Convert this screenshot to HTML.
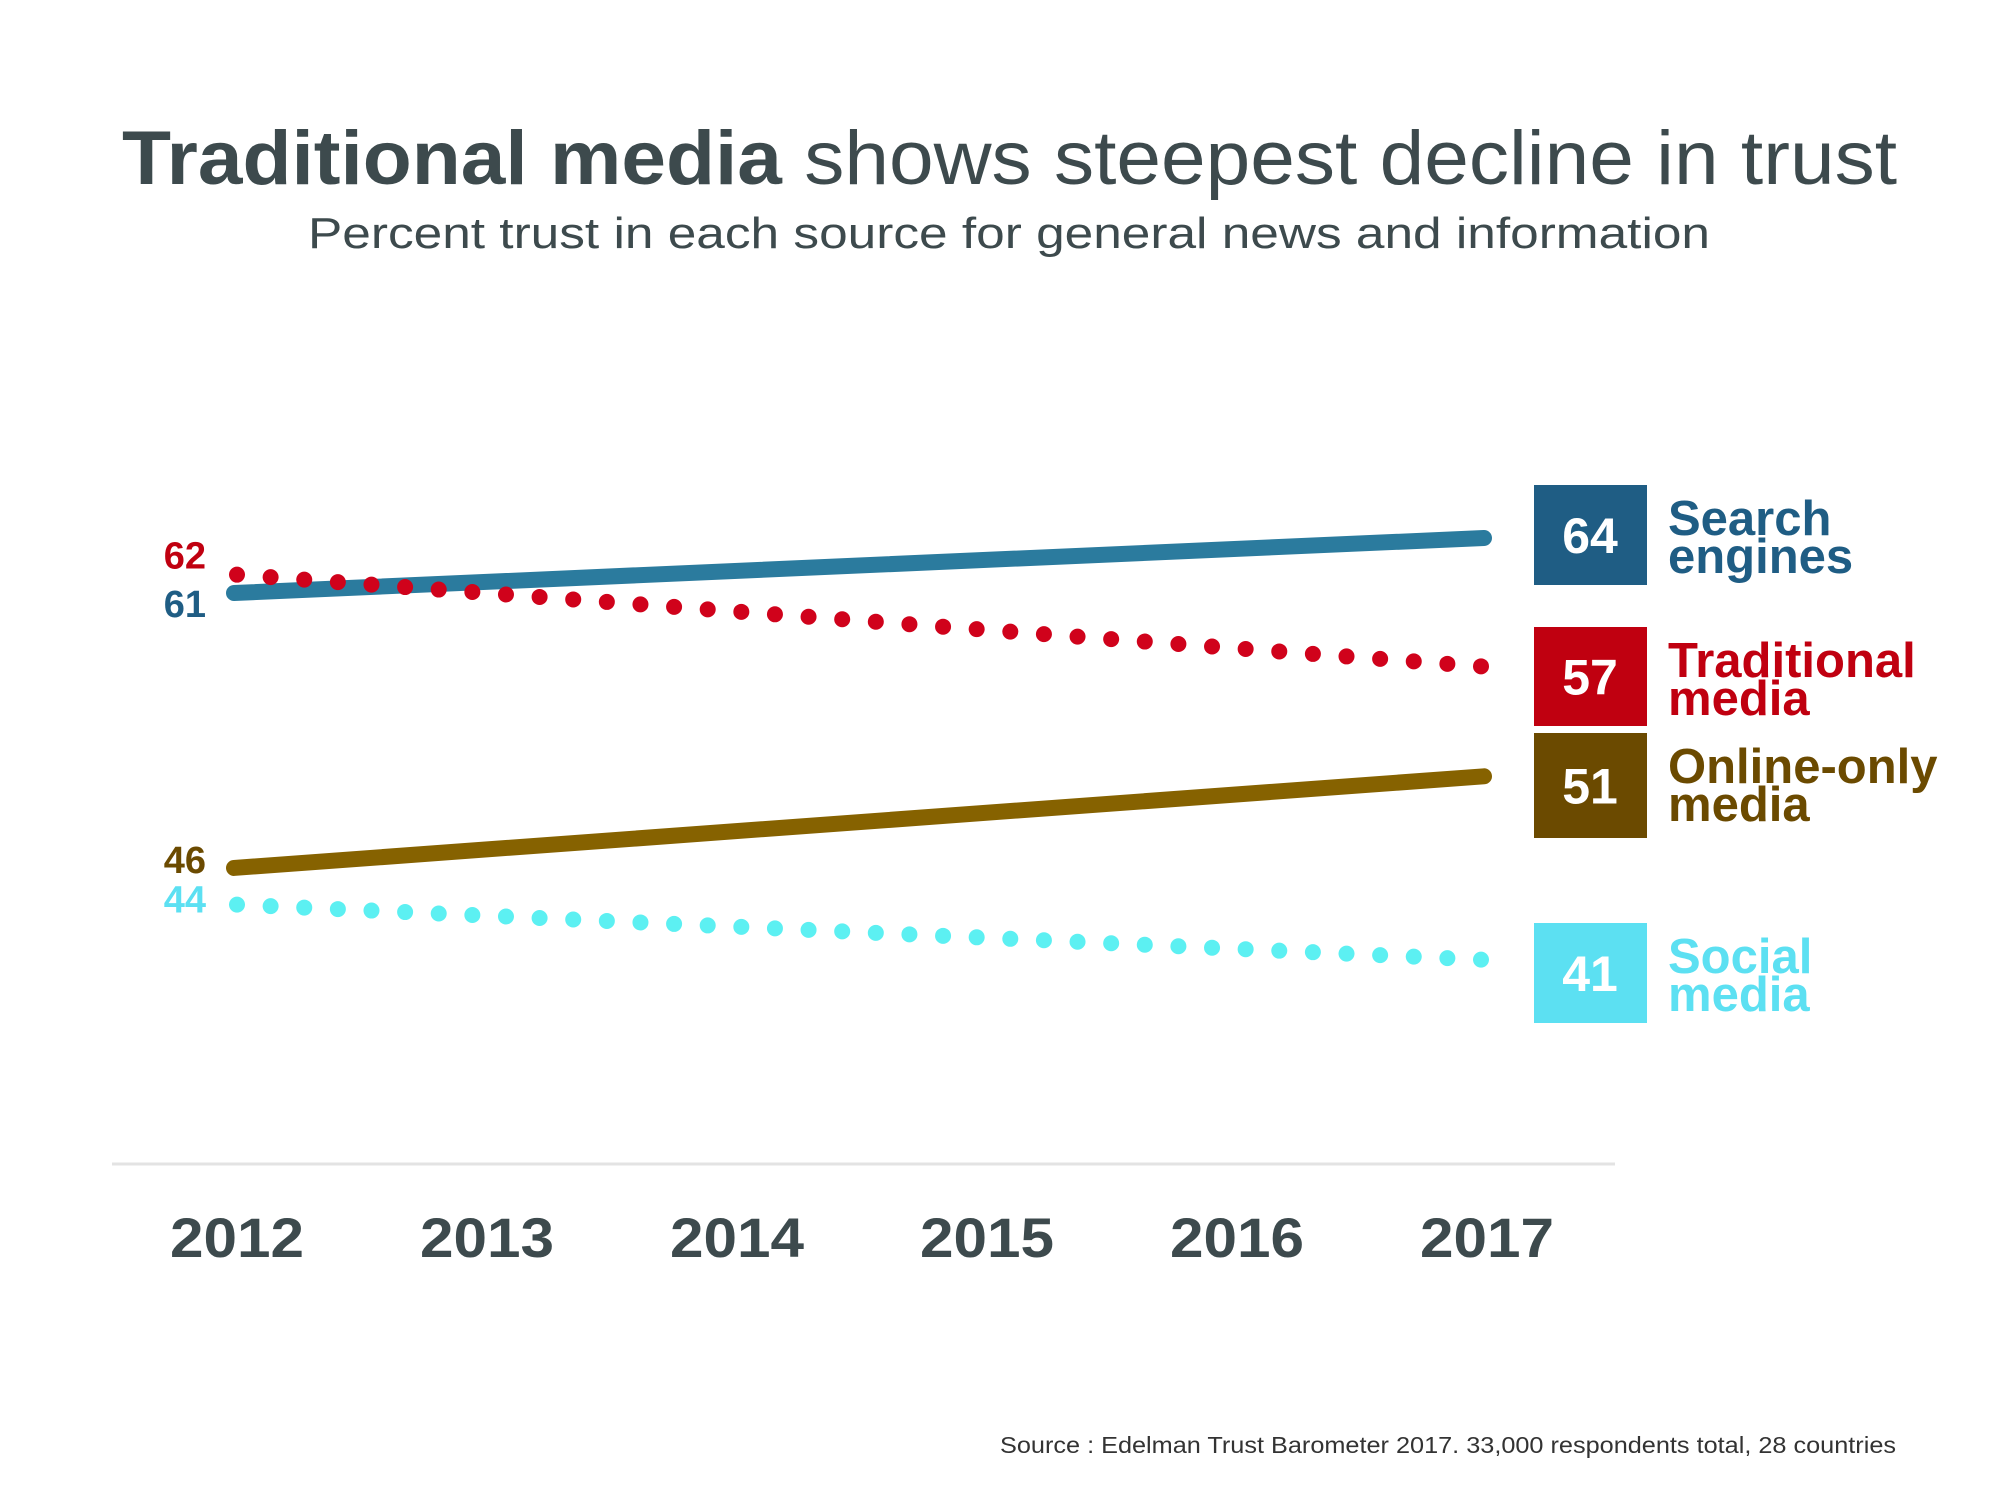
<!DOCTYPE html>
<html><head><meta charset="utf-8"><style>
html,body{margin:0;padding:0;background:#fff;}
svg{display:block;font-family:"Liberation Sans",sans-serif;}
</style></head><body>
<svg id="chart" width="2000" height="1500" viewBox="0 0 2000 1500">
<text x="122" y="184" font-size="76" fill="#3d4a4d" textLength="1775" lengthAdjust="spacingAndGlyphs"><tspan font-weight="bold">Traditional media</tspan> shows steepest decline in trust</text>
<text x="308" y="248" font-size="44" fill="#3d4a4d" textLength="1402" lengthAdjust="spacingAndGlyphs">Percent trust in each source for general news and information</text>
<line x1="112" y1="1164" x2="1615" y2="1164" stroke="#e3e3e3" stroke-width="3"/>
<g id="marks"></g>
<text x="1896" y="1453" font-size="23" fill="#333" text-anchor="end" textLength="896" lengthAdjust="spacingAndGlyphs">Source : Edelman Trust Barometer 2017. 33,000 respondents total, 28 countries</text>
</svg>
<script>
const years = ["2012","2013","2014","2015","2016","2017"];
const seriesNames = ["Search engines","Traditional media","Online-only media","Social media"];
const startValues = [61, 62, 46, 44];
const endValues = [64, 57, 51, 41];
const lineColors = ["#2b7b9e","#d0021b","#866200","#5cf0f2"];
const boxColors = ["#1f5d84","#c00010","#6b4a00","#5ce0f2"];
const dotted = [false, true, false, true];
const labelLine1 = ["Search","Traditional","Online-only","Social"];
const labelLine2 = ["engines","media","media","media"];

const NS = "http://www.w3.org/2000/svg";
const g = document.getElementById("marks");
const x = i => 234 + i * (1484 - 234) / (years.length - 1);
const y = v => 593 + (61 - v) * 18.33;
function mk(tag, attrs, text){
  const e = document.createElementNS(NS, tag);
  for (const k in attrs) e.setAttribute(k, attrs[k]);
  if (text !== undefined) e.textContent = text;
  g.appendChild(e);
  return e;
}
years.forEach((yr, i) => {
  const t = mk("text", {x: x(i) + 3, y: 1257, "font-size": 56, "font-weight": "bold", fill: "#3d4a4d", "text-anchor": "middle", textLength: 134, lengthAdjust: "spacingAndGlyphs"}, yr);
  
  
});
const boxTops = [485, 627, 733, 923];
const boxH = [100, 99, 105, 100];
const startLabelDy = [24, -6, 5, 8];
seriesNames.forEach((name, s) => {
  const x1 = x(0), x2 = x(years.length - 1), y1 = y(startValues[s]), y2 = y(endValues[s]);
  if (!dotted[s]) {
    const l = mk("line", {x1, y1, x2, y2, stroke: lineColors[s], "stroke-width": 16, "stroke-linecap": "round"});
    
    
  } else {
    const n = 37;
    for (let k = 0; k <= n; k++) {
      const f = k / n;
      const c = mk("circle", {cx: x1 + 3 + (x2 - x1 - 6) * f, cy: y1 + (y2 - y1) * f, r: 8, fill: lineColors[s]});
      
      
    }
  }
  const sl = mk("text", {x: 206, y: y1 + startLabelDy[s], "font-size": 38, "font-weight": "bold", fill: s === 3 ? "#5ce0f2" : boxColors[s], "text-anchor": "end"}, startValues[s]);
  
  
  const b = mk("rect", {x: 1534, y: boxTops[s], width: 113, height: boxH[s], fill: boxColors[s]});
  
  
  const bt = mk("text", {x: 1590, y: boxTops[s] + boxH[s] / 2 + 18, "font-size": 50, "font-weight": "bold", fill: "#fff", "text-anchor": "middle"}, endValues[s]);
  
  
  const ly = boxTops[s] + 50;
  const t1 = mk("text", {x: 1668, y: ly, "font-size": 49, "font-weight": "bold", fill: boxColors[s]}, labelLine1[s]);
  
  
  const t2 = mk("text", {x: 1668, y: ly + 38, "font-size": 49, "font-weight": "bold", fill: boxColors[s]}, labelLine2[s]);
  
  
});
</script>
</body></html>
